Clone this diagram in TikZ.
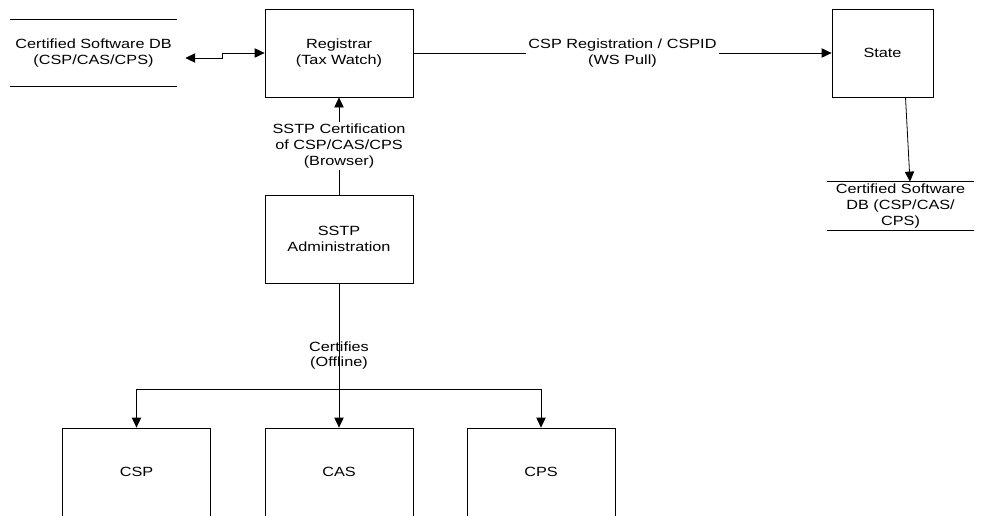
\documentclass[tikz,border=0pt]{standalone}
\usepackage{fontspec}
\setmainfont{Liberation Sans}[FakeStretch=1.22]
\usepackage{tikz}
\usetikzlibrary{calc}
\usetikzlibrary{arrows.meta}
\newcommand{\storelines}[1]{\draw (#1.north west) -- (#1.north east); \draw (#1.south west) -- (#1.south east);}

\begin{document}
\begin{tikzpicture}[x=0.75pt,y=-0.75pt,line width=0.6pt,
        font=\fontsize{10}{11.8}\selectfont,
        box/.style={draw,minimum width=111pt,minimum height=66pt,align=center,inner sep=0pt},
        store/.style={align=center,inner sep=0pt},
        lbl/.style={fill=white,inner sep=1.5pt,align=center},
        arr/.style={-{Triangle[length=7.5pt,width=7pt]}},
        dblarr/.style={{Triangle[length=7.5pt,width=7pt]}-{Triangle[length=7.5pt,width=7pt]}}]
    \useasboundingbox (0,0) rectangle (984,515);
    \clip (0,0) rectangle (984,515);
    %actors
    \node[box] (registrar) at (339,53) {Registrar\\(Tax Watch)};
    \node[box,minimum width=75.75pt] (state) at (882.5,53) {State};
    \node[box] (sstp) at (339,239) {SSTP\\Administration};
    \node[box] (csp) at (136.5,472) {CSP};
    \node[box] (cas) at (339,472) {CAS};
    \node[box] (cps) at (541,472) {CPS};
    %data stores
    \node[store,minimum width=125pt,minimum height=50pt] (dbleft) at (93.5,53) {Certified Software DB\\(CSP/CAS/CPS)};
    \node[store,minimum width=109pt,minimum height=36pt] (dbright) at (900.5,206) {Certified Software\\DB (CSP/CAS/\\CPS)};
    \storelines{dbleft}
    \storelines{dbright}
    %connectors
    \draw[dblarr] ($(dbleft.east)+(8,5)$) -- ++(37,0) -- ++(0,-5) -- (registrar.west);
    \draw[arr] (registrar.east) -- node[lbl] {CSP Registration / CSPID\\(WS Pull)} (state.west);
    \draw[arr] ($(state.south)+(23,0)$) -- ($(dbright.north)+(9.5,0)$);
    \draw[arr] (sstp.north) -- node[lbl] {SSTP Certification\\of CSP/CAS/CPS\\(Browser)} (registrar.south);
    \draw[arr] (sstp.south) -- node[align=center] {Certifies\\(Offline)} (cas.north);
    \draw[arr] (sstp.south) -- ++(0,106) -| (csp.north);
    \draw[arr] (sstp.south) -- ++(0,106) -| (cps.north);
\end{tikzpicture}
\end{document}
